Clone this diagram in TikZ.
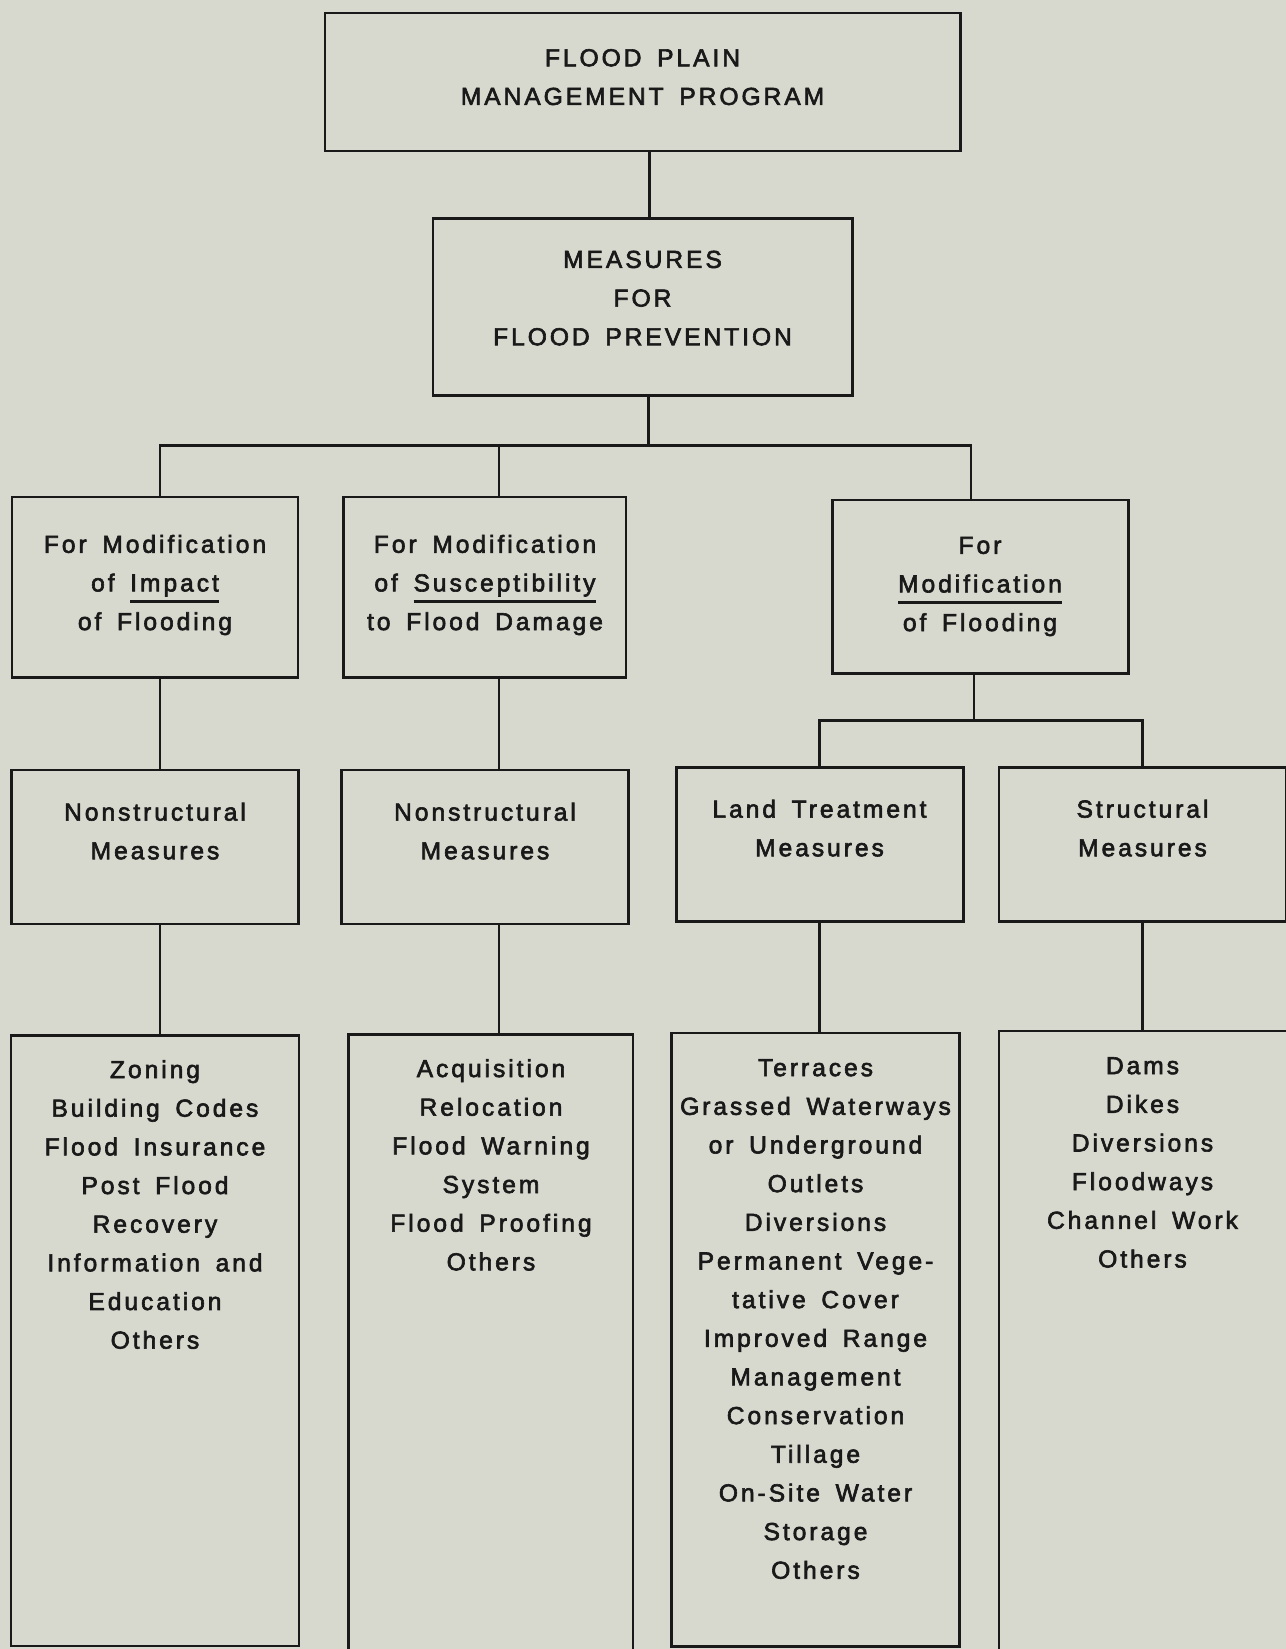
\documentclass[tikz,border=0pt]{standalone}
\usepackage{fontspec}
\setmainfont{Liberation Sans}[LetterSpace=12, WordSpace=1.6, FakeBold=2.5]
\usepackage{xcolor}
\usepackage{tikz}
\definecolor{paper}{RGB}{215, 217, 206}
\definecolor{ink}{RGB}{25, 25, 25}
\usetikzlibrary{positioning}
\newcommand{\flul}[1]{\setbox0\hbox{#1}\rlap{\rule[-3.2pt]{\wd0}{0.75pt}}\box0}
\newcommand{\lift}[1]{\rule[-#1]{0pt}{#1}}

\begin{document}
\begin{tikzpicture}[
    x=1mm, y=-1mm,
    every node/.style={font={\fontsize{7pt}{11pt}\selectfont}, text=ink},
    headbox/.style={rectangle, draw=ink, line width=0.85pt, align=center, inner sep=0pt},
    groupbox/.style={headbox, minimum width=28.6mm, minimum height=18mm},
    measurebox/.style={headbox, minimum width=28.7mm, minimum height=15.4mm},
    listbox/.style={rectangle, draw=ink, line width=0.85pt,
                    minimum width=28.8mm, minimum height=61mm},
    listtext/.style={align=center, inner sep=0pt},
    link/.style={draw=ink, line width=0.8pt}
]
    \fill[paper] (0,0) rectangle (128.6,164.9);
    \useasboundingbox (0,0) rectangle (128.6,164.9);

    % Program and prevention
    \node[headbox, minimum width=63.5mm, minimum height=13.8mm] (prog) at (64.25,8.2) {FLOOD PLAIN\\MANAGEMENT PROGRAM\lift{1mm}};
    \node[headbox, minimum width=41.9mm, minimum height=17.7mm, below=6.5mm of prog] (meas) {MEASURES\\FOR\\FLOOD PREVENTION\lift{1.9mm}};

    % Three kinds of modification
    \node[groupbox] (impact) at (15.5,58.7) {For Modification\\of \flul{Impact}\\of Flooding\lift{0.9mm}};
    \node[groupbox, minimum width=28.2mm, right=4.3mm of impact] (suscept) {For Modification\\of \flul{Susceptibility}\\to Flood Damage\lift{0.9mm}};
    \node[groupbox, minimum width=29.6mm, minimum height=17.3mm] (flooding) at (98.0,58.65) {For\\\flul{Modification}\\of Flooding};

    % Kinds of measures
    \node[measurebox, below=9.0mm of impact] (nonA) {Nonstructural\\Measures\lift{3.2mm}};
    \node[measurebox, below=9.0mm of suscept] (nonB) {Nonstructural\\Measures\lift{3.2mm}};
    \node[measurebox] (land) at (81.95,84.4) {Land Treatment\\Measures\lift{3.2mm}};
    \node[measurebox, right=3.3mm of land] (struct) {Structural\\Measures\lift{3.2mm}};

    % Lists
    \node[listbox, below=10.9mm of nonA] (zonebox) {};
    \node[listbox, minimum width=28.4mm, minimum height=64mm, below=10.8mm of nonB, xshift=0.6mm] (acqbox) {};
    \node[listbox, minimum height=61.3mm, below=10.9mm of land, xshift=-0.4mm] (terrbox) {};
    \node[listbox, minimum height=64mm, minimum width=31mm, below=10.7mm of struct.south west, anchor=north west] (dambox) {};

    \node[listtext, below=2.5mm of zonebox.north] (zonelist) {Zoning\\Building Codes\\Flood Insurance\\Post Flood\\Recovery\\Information and\\Education\\Others};
    \node[listtext, below=2.5mm of acqbox.north] (acqlist) {Acquisition\\Relocation\\Flood Warning\\System\\Flood Proofing\\Others};
    \node[listtext, below=2.7mm of terrbox.north] (terrlist) {Terraces\\Grassed Waterways\\or Underground\\Outlets\\Diversions\\Permanent Vege-\\tative Cover\\Improved Range\\Management\\Conservation\\Tillage\\On-Site Water\\Storage\\Others};
    \node[listtext, below=13.4mm of struct] (damlist) {Dams\\Dikes\\Diversions\\Floodways\\Channel Work\\Others};

    % Connecting lines
    \coordinate[below=0mm of prog.south, xshift=0.7mm] (progfoot);
    \draw[link] (progfoot) -- (progfoot |- meas.north);
    \coordinate[below=4.8mm of meas.south, xshift=0.6mm] (bus);
    \draw[link] (bus |- meas.south) -- (bus);
    \coordinate[above=0mm of impact.north, xshift=0.5mm] (impacttop);
    \coordinate[above=0mm of flooding.north, xshift=-0.9mm] (floodingtop);
    \draw[link] (impacttop) |- (bus) -| (floodingtop);
    \coordinate[above=0mm of suscept.north, xshift=1.4mm] (suscepttop);
    \draw[link] (suscepttop) -- (suscepttop |- bus);
    \draw[link] (impacttop |- impact.south) -- (impacttop |- nonA.north);
    \draw[link] (suscepttop |- suscept.south) -- (suscepttop |- nonB.north);
    \coordinate[below=4.6mm of flooding.south, xshift=-0.6mm] (fbus);
    \draw[link] (fbus |- flooding.south) -- (fbus);
    \draw[link] (land.north) |- (fbus) -| (struct.north);
    \draw[link] (impacttop |- nonA.south) -- (impacttop |- zonebox.north);
    \draw[link] (suscepttop |- nonB.south) -- (suscepttop |- acqbox.north);
    \draw[link] (land.south) -- (land.south |- terrbox.north);
    \draw[link] (struct.south) -- (struct.south |- dambox.north);
\end{tikzpicture}
\end{document}
